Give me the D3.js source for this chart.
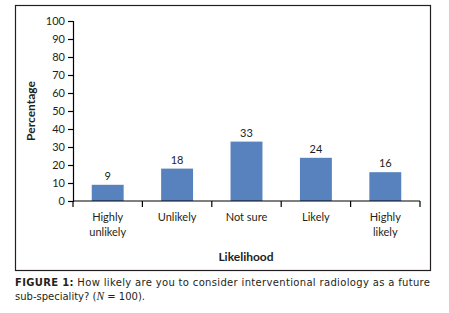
<!DOCTYPE html>
<html><head><meta charset="utf-8">
<script src="https://cdn.jsdelivr.net/npm/d3@7"></script>
<style>body{margin:0;background:#fff}svg{display:block}</style>
</head><body>
<svg id="c" width="449" height="313"></svg>
<script>
const categories = [["Highly","unlikely"],["Unlikely"],["Not sure"],["Likely"],["Highly","likely"]];
const values = [9, 18, 33, 24, 16];
const yTicks = [0,10,20,30,40,50,60,70,80,90,100];

const svg = d3.select("#c");
const font = "Lato, 'Open Sans', sans-serif";
const txt = "#231f20";

svg.append("rect").attr("x",15.5).attr("y",5.5).attr("width",415).attr("height",265)
  .attr("fill","none").attr("stroke","#231f20").attr("stroke-width",1.2);

const x = d3.scaleBand().domain(d3.range(categories.length)).range([73,420]).paddingInner(0.54).paddingOuter(0.27);
const y = d3.scaleLinear().domain([0,100]).range([201,21]);

const ya = svg.append("g").attr("transform","translate(73,0)")
  .call(d3.axisLeft(y).tickValues(yTicks).tickSize(5).tickPadding(3));
ya.select(".domain").attr("stroke","#000").attr("stroke-width",1.2);
ya.selectAll(".tick line").attr("stroke","#000").attr("stroke-width",1.2);
ya.selectAll("text").attr("font-family",font).attr("font-size",11).attr("fill",txt);

svg.selectAll("rect.bar").data(values).enter().append("rect").attr("class","bar")
  .attr("x",(d,i)=>x(i)).attr("width",x.bandwidth())
  .attr("y",d=>y(d)).attr("height",d=>y(0)-y(d)).attr("fill","#5882be");

svg.selectAll("text.val").data(values).enter().append("text").attr("class","val")
  .attr("x",(d,i)=>x(i)+x.bandwidth()/2).attr("y",d=>y(d)-5)
  .attr("text-anchor","middle").attr("font-family",font).attr("font-size",11).attr("fill",txt)
  .text(d=>d);

const bounds = d3.range(categories.length+1).map(i=>73 + i*(347/categories.length));
svg.append("line").attr("x1",73).attr("x2",420).attr("y1",y(0)).attr("y2",y(0)).attr("stroke","#000").attr("stroke-width",1.2);
svg.selectAll("line.xt").data(bounds).enter().append("line").attr("class","xt")
  .attr("x1",d=>d).attr("x2",d=>d).attr("y1",y(0)).attr("y2",y(0)+6).attr("stroke","#000").attr("stroke-width",1.2);

const cl = svg.selectAll("text.cat").data(categories).enter().append("text").attr("class","cat")
  .attr("text-anchor","middle").attr("font-family",font).attr("font-size",11).attr("fill",txt);
cl.each(function(d,i){
  const t = d3.select(this);
  d.forEach((line,j)=>t.append("tspan").attr("x",x(i)+x.bandwidth()/2).attr("y",221+j*15).text(line));
});

svg.append("text").attr("x",246).attr("y",261).attr("text-anchor","middle")
  .attr("font-family",font).attr("font-weight","bold").attr("font-size",12).attr("fill",txt).text("Likelihood");
svg.append("text").attr("transform","translate(35,111) rotate(-90)").attr("text-anchor","middle")
  .attr("font-family",font).attr("font-weight","bold").attr("font-size",12).attr("fill",txt).text("Percentage");

const cf = "'DejaVu Sans', Verdana, sans-serif";
const c1 = svg.append("text").attr("x",15).attr("y",286).attr("font-family",cf).attr("font-size",10).attr("fill",txt)
  .attr("textLength",415).attr("lengthAdjust","spacing");
c1.append("tspan").attr("font-weight","bold").text("FIGURE 1:");
c1.append("tspan").text(" How likely are you to consider interventional radiology as a future");
const c2 = svg.append("text").attr("x",15).attr("y",300).attr("font-family",cf).attr("font-size",10).attr("fill",txt);
c2.append("tspan").text("sub-speciality? (");
c2.append("tspan").attr("font-family","'Liberation Serif', serif").attr("font-style","italic").attr("font-size",11.5).text("N");
c2.append("tspan").text(" = 100).");
</script>
</body></html>
